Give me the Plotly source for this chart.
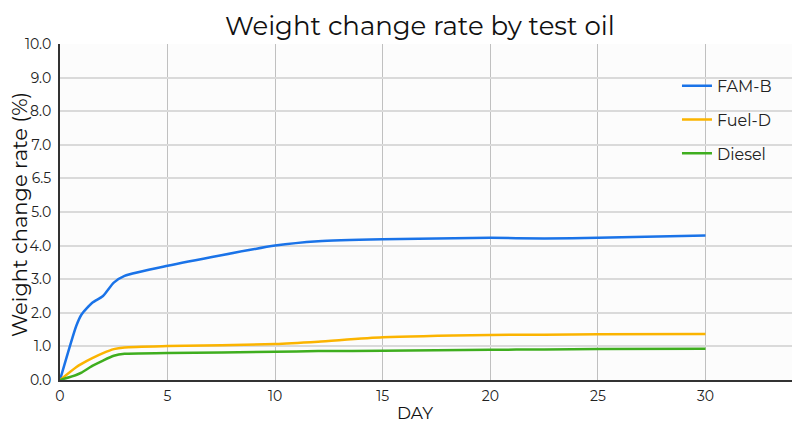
import plotly.graph_objects as go

days = [0, 0.75, 1, 1.5, 2, 2.5, 3, 5, 10, 12, 15, 20, 22.5, 25, 30]
fam_b = [0, 1.6, 1.95, 2.3, 2.5, 2.9, 3.1, 3.4, 4.0, 4.13, 4.19, 4.23, 4.21, 4.23, 4.30]
fuel_d = [0, 0.38, 0.48, 0.65, 0.8, 0.92, 0.97, 1.01, 1.07, 1.14, 1.27, 1.34, 1.35, 1.36, 1.37]
diesel = [0, 0.15, 0.22, 0.42, 0.58, 0.72, 0.78, 0.80, 0.84, 0.86, 0.87, 0.90, 0.91, 0.92, 0.93]

series_names = ["FAM-B", "Fuel-D", "Diesel"]
series_values = [fam_b, fuel_d, diesel]
series_colors = ["#1a73e8", "#fbb400", "#3fae1f"]

y_tickvals = [0, 1, 2, 3, 4, 5, 6, 7, 8, 9, 10]
y_ticktext = ["0.0", "1.0", "2.0", "3.0", "4.0", "5.0", "6.5", "7.0", "8.0", "9.0", "10.0"]
x_tickvals = [0, 5, 10, 15, 20, 25, 30]

FONT = "Montserrat, Noto Sans, sans-serif"

fig = go.Figure()
for name, vals, col in zip(series_names, series_values, series_colors):
    fig.add_trace(go.Scatter(
        x=days, y=vals, name=name, mode="lines", legendgroup=name,
        line=dict(color=col, width=2.5, shape="spline", smoothing=0.6),
    ))

# page body has an 8px default margin, so the figure is sized/offset accordingly
fig.update_layout(
    width=792, height=418,
    paper_bgcolor="white",
    plot_bgcolor="#fcfcfc",
    margin=dict(l=52, r=2, t=36, b=46, autoexpand=False),
    font=dict(family=FONT, color="#222"),
    title=dict(text="Weight change rate by test oil", x=0.52, xanchor="center",
               y=0.957, yanchor="middle", yref="container",
               font=dict(size=26, color="#111", family=FONT)),
    legend=dict(x=0.836, y=0.926, xanchor="left", yanchor="top",
                bgcolor="rgba(0,0,0,0)", font=dict(size=16, color="#222"),
                tracegroupgap=10, itemwidth=30),
    showlegend=True,
    annotations=[
        dict(text="DAY", x=0.481, y=-0.098, xref="paper", yref="paper",
             xanchor="center", yanchor="middle", showarrow=False,
             font=dict(size=17, color="#111", family=FONT)),
        dict(text="Weight change rate (%)", x=-0.0555, y=0.491, xref="paper", yref="paper",
             xanchor="center", yanchor="middle", showarrow=False, textangle=-90,
             font=dict(size=21, color="#111", family=FONT)),
    ],
)
fig.update_xaxes(
    range=[0, 34.3], tickvals=x_tickvals, ticktext=[str(v) for v in x_tickvals],
    showgrid=True, gridcolor="#c0c0c0", gridwidth=1,
    showline=True, linecolor="#333", linewidth=2, automargin=False,
    zeroline=False, ticks="outside", ticklen=2, tickcolor="rgba(0,0,0,0)",
    tickfont=dict(size=14, color="#222"),
)
fig.update_yaxes(
    range=[0, 10], tickvals=y_tickvals, ticktext=y_ticktext,
    showgrid=True, gridcolor="#dadada", gridwidth=2,
    showline=True, linecolor="#333", linewidth=2, automargin=False,
    zeroline=False, ticks="outside", ticklen=4, tickcolor="rgba(0,0,0,0)",
    tickfont=dict(size=14, color="#222"),
)

fig.write_html("out.html")
